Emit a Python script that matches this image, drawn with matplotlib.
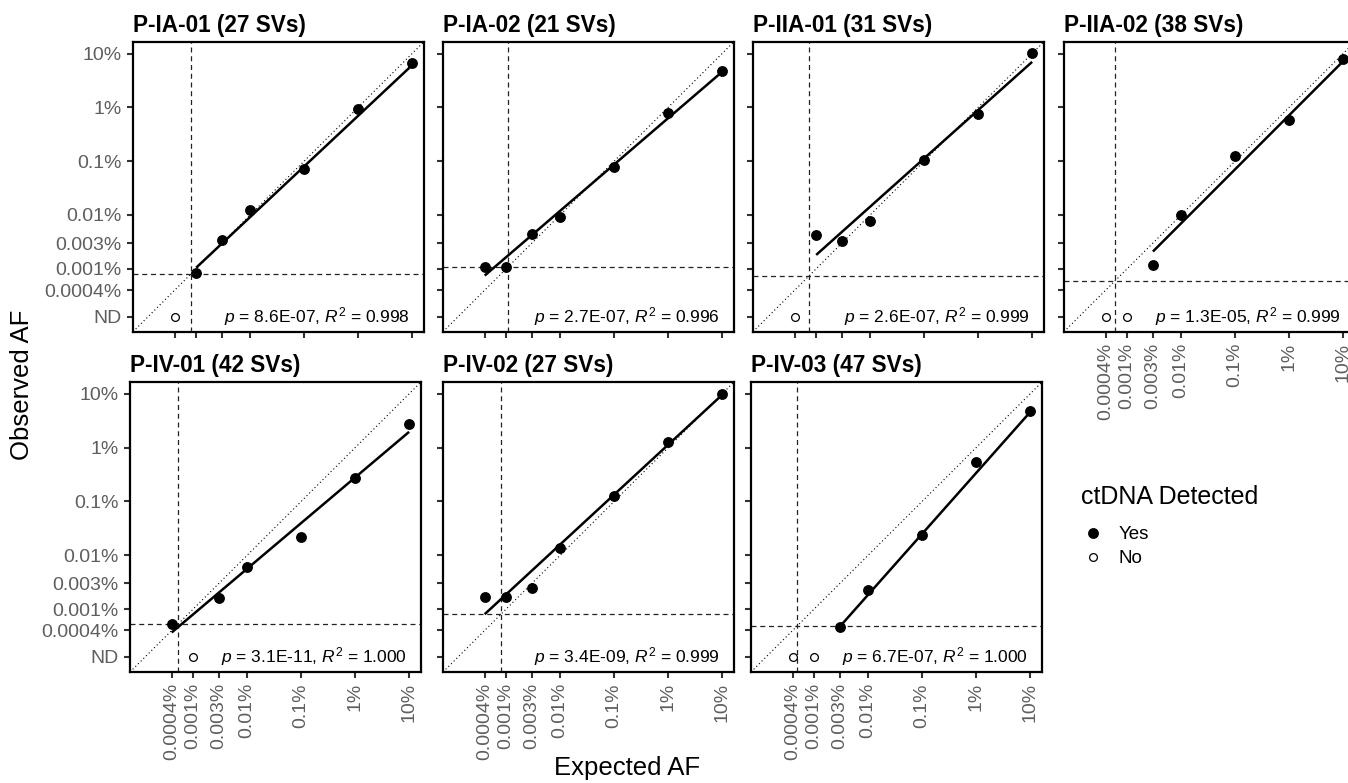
import matplotlib
matplotlib.use('Agg')
import matplotlib.pyplot as plt
import numpy as np
from matplotlib.lines import Line2D
from matplotlib.ticker import NullLocator

plt.rcParams['font.family'] = ['Liberation Sans', 'DejaVu Sans']
plt.rcParams['mathtext.fontset'] = 'custom'
plt.rcParams['mathtext.it'] = 'Liberation Sans:italic'
plt.rcParams['mathtext.rm'] = 'Liberation Sans'

# ---- data (AF in percent) ----
patients = ['P-IA-01', 'P-IA-02', 'P-IIA-01', 'P-IIA-02', 'P-IV-01', 'P-IV-02', 'P-IV-03']
n_svs = [27, 21, 31, 38, 42, 27, 47]

expected_yes = [
    [0.001, 0.003, 0.01, 0.1, 1, 10],
    [0.0004, 0.001, 0.003, 0.01, 0.1, 1, 10],
    [0.001, 0.003, 0.01, 0.1, 1, 10],
    [0.003, 0.01, 0.1, 1, 10],
    [0.0004, 0.003, 0.01, 0.1, 1, 10],
    [0.0004, 0.001, 0.003, 0.01, 0.1, 1, 10],
    [0.003, 0.01, 0.1, 1, 10],
]
observed_yes = [
    [0.00082, 0.0034, 0.0122, 0.072, 0.93, 6.7],
    [0.0011, 0.0011, 0.0044, 0.009, 0.079, 0.79, 4.8],
    [0.0042, 0.0033, 0.0077, 0.103, 0.76, 10.3],
    [0.00116, 0.0101, 0.127, 0.57, 8.0],
    [0.00052, 0.00163, 0.006, 0.0218, 0.278, 2.74],
    [0.00164, 0.00164, 0.00248, 0.0139, 0.127, 1.27, 10.1],
    [0.00047, 0.0023, 0.024, 0.535, 4.8],
]
expected_no = [
    [0.0004],
    [],
    [0.0004],
    [0.0004, 0.001],
    [0.001],
    [],
    [0.0004, 0.001],
]
lod = [0.00081, 0.00107, 0.00074, 0.00059, 0.00052, 0.00081, 0.00048]
fit_slope = [0.941, 0.861, 0.897, 1.004, 0.848, 0.927, 1.131]
fit_intercept = [-0.157, -0.201, -0.052, -0.147, -0.554, 0.054, -0.471]
p_values = ['8.6E-07', '2.7E-07', '2.6E-07', '1.3E-05', '3.1E-11', '3.4E-09', '6.7E-07']
r_squared = ['0.998', '0.996', '0.999', '0.999', '1.000', '0.999', '1.000']

af_ticks = [0.0004, 0.001, 0.003, 0.01, 0.1, 1, 10]
af_labels = ['0.0004%', '0.001%', '0.003%', '0.01%', '0.1%', '1%', '10%']
nd_value = 1.29e-4
axis_lim = (10 ** -4.17, 10 ** 1.22)

# ---- layout ----
W, H = 1348, 783
fig = plt.figure(figsize=(W / 100, H / 100), dpi=100)
col_left = [[133, 443, 753, 1064], [130, 443, 751]]
row_top = [41.7, 382]
pw, ph = 291, 290

tick_col = '#333333'
lab_col = '#5e5e5e'

for i, name in enumerate(patients):
    r, c = divmod(i, 4)
    ax = fig.add_axes([col_left[r][c] / W, 1 - (row_top[r] + ph) / H, pw / W, ph / H])
    ax.set_xscale('log')
    ax.set_yscale('log')
    ax.set_xlim(axis_lim)
    ax.set_ylim(axis_lim)
    ax.xaxis.set_minor_locator(NullLocator())
    ax.yaxis.set_minor_locator(NullLocator())

    # identity line
    ax.plot([0, 1], [0, 1], transform=ax.transAxes, ls=(0, (1, 2.4)), color='black', lw=0.8)
    # detection limit
    ax.axvline(lod[i], ls=(0, (4, 3)), color='#222222', lw=0.9)
    ax.axhline(lod[i], ls=(0, (4, 3)), color='#222222', lw=0.9)

    # regression line over detected range
    ex = np.array(expected_yes[i])
    xs = np.array([ex.min(), ex.max()])
    ys = 10 ** (fit_slope[i] * np.log10(xs) + fit_intercept[i])
    ax.plot(xs, ys, color='black', lw=1.8, solid_capstyle='butt')

    ax.plot(expected_yes[i], observed_yes[i], 'o', color='black', ms=6.8, zorder=5)
    if expected_no[i]:
        ax.plot(expected_no[i], [nd_value] * len(expected_no[i]), 'o', mfc='white',
                mec='black', mew=0.9, ms=5.6, zorder=5)

    ax.text(0.95, nd_value, r'$p$ = %s, $R^2$ = %s' % (p_values[i], r_squared[i]),
            transform=ax.get_yaxis_transform(), ha='right', va='center', fontsize=12.5)

    ax.set_xticks(af_ticks)
    if r == 1 or c == 3:
        ax.set_xticklabels(af_labels, rotation=90)
    else:
        ax.set_xticklabels([])
    ax.set_yticks([nd_value] + af_ticks)
    if c == 0:
        ax.set_yticklabels(['ND'] + af_labels)
    else:
        ax.set_yticklabels([])
    ax.tick_params(direction='out', length=4, width=1.5, color=tick_col,
                   labelcolor=lab_col, labelsize=14)
    ax.tick_params(axis='x', pad=4)
    ax.tick_params(axis='y', pad=4)
    for s in ax.spines.values():
        s.set_linewidth(1.6)
        s.set_color('black')

    ax.set_title('%s (%d SVs)' % (name, n_svs[i]), loc='left', fontweight='bold',
                 fontsize=16.3, pad=7)

fig.text(22 / W, 1 - 385 / H, 'Observed AF', rotation=90, ha='center', va='center', fontsize=18.5)
fig.text(627 / W, 1 - 768 / H, 'Expected AF', ha='center', va='center', fontsize=18.5)

# legend
fig.text(1081 / W, 1 - 497 / H, 'ctDNA Detected', ha='left', va='center', fontsize=18)
handles = [
    Line2D([], [], marker='o', ls='', color='black', ms=6.8),
    Line2D([], [], marker='o', ls='', mfc='white', mec='black', mew=0.9, ms=5.6),
]
fig.legend(handles, ['Yes', 'No'], loc='upper left',
           bbox_to_anchor=(1087 / W, 1 - 526 / H), frameon=False, fontsize=13.5,
           handlelength=0.6, handletextpad=1.1, labelspacing=0.38,
           borderaxespad=0, borderpad=0)

fig.savefig('out.png', dpi=100)
